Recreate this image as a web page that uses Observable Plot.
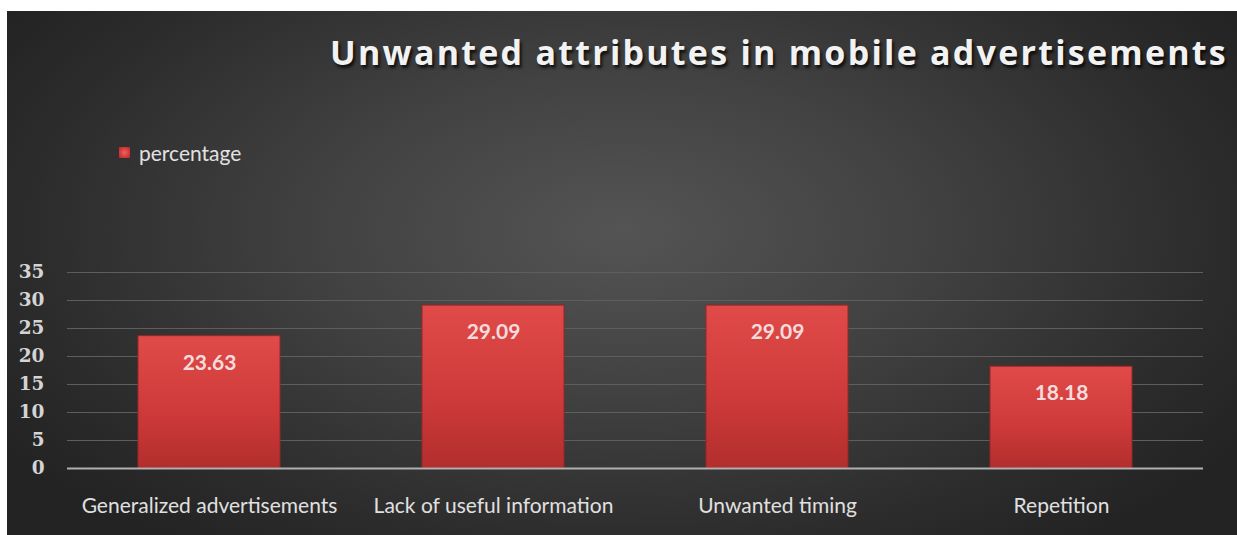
<!DOCTYPE html>
<html>
<head>
<meta charset="utf-8">
<script src="https://cdn.jsdelivr.net/npm/d3@7"></script>
<script src="https://cdn.jsdelivr.net/npm/@observablehq/plot@0.6"></script>
<style>
  html, body { margin: 0; padding: 0; background: #fff; }
  #panel {
    position: absolute; left: 7px; top: 11px; width: 1230px; height: 524px; overflow: hidden;
    background: radial-gradient(ellipse 60% 75% at 50% 42%, #545454 0%, #424242 40%, #2c2c2c 80%, #232323 100%);
  }
  #title {
    position: absolute; right: 9px; top: 24px; line-height: 34px; white-space: nowrap;
    font-family: "Open Sans", sans-serif; font-weight: 700; font-size: 34px; color: #f2f2f2;
    text-shadow: 2px 3px 3px rgba(0,0,0,0.75);
  }
  #legend {
    position: absolute; left: 112px; top: 130px; height: 22px; display: flex; align-items: center;
    font-family: Lato, sans-serif; font-size: 21px; color: #e2e2e2;
  }
  #legend .sw { width: 11px; height: 11px; margin-right: 9px;
    background: radial-gradient(circle, #f06060 0%, #d23a3a 60%, #a82828 100%); }
  #chart { position: absolute; left: 0; top: 239px; }
</style>
</head>
<body>
<div id="panel">
  <div id="title">Unwanted attributes in mobile advertisements</div>
  <div id="legend"><div class="sw"></div><span>percentage</span></div>
  <div id="chart"></div>
</div>
<script>
const categories = ["Generalized advertisements", "Lack of useful information", "Unwanted timing", "Repetition"];
const percentage = [23.63, 29.09, 29.09, 18.18];
const yTicks = [0, 5, 10, 15, 20, 25, 30, 35];

const data = categories.map((c, i) => ({category: c, value: percentage[i]}));

// fit title letter spacing to span
const t = document.getElementById("title");
const natural = t.getBoundingClientRect().width;
const target = 898;
t.style.letterSpacing = ((target - natural) / t.textContent.length) + "px";

const defs = () => {
  const g = d3.create("svg:defs");
  const lg = g.append("linearGradient").attr("id", "barGrad").attr("x1", 0).attr("y1", 0).attr("x2", 0).attr("y2", 1);
  lg.append("stop").attr("offset", "0%").attr("stop-color", "#e04b49");
  lg.append("stop").attr("offset", "55%").attr("stop-color", "#cf3b3a");
  lg.append("stop").attr("offset", "100%").attr("stop-color", "#b22e2d");
  return g.node();
};

const chart = Plot.plot({
  width: 1230,
  height: 285,
  marginTop: 22,
  marginBottom: 67,
  marginLeft: 60,
  marginRight: 34,
  style: {background: "transparent", overflow: "visible"},
  x: {domain: categories, paddingInner: 0.5, paddingOuter: 0.25, label: null},
  y: {domain: [0, 35], label: null},
  marks: [
    defs,
    Plot.ruleY(yTicks.filter(d => d > 0), {stroke: "#5e5e5e", strokeWidth: 1}),
    Plot.barY(data, {x: "category", y: "value", fill: "url(#barGrad)", stroke: "#962626", strokeWidth: 1}),
    Plot.barY(data, {x: "category", y1: "value", y2: d => d.value - 0.35, fill: "#ec6a68", inset: 2}),
    Plot.ruleY([0], {stroke: "#b0b0b0", strokeWidth: 2}),
    Plot.text(data, {x: "category", y: "value", text: d => d.value.toFixed(2), dy: 27,
      fill: "#f5dcdc", fontSize: 21, fontWeight: 700, fontFamily: "Lato, sans-serif"}),
    Plot.axisY({ticks: yTicks, tickSize: 0, tickPadding: 23, fill: "#d4d4d4",
      fontSize: 18.5, fontWeight: 700, fontFamily: "DejaVu Serif, serif", label: null}),
    Plot.axisX({tickSize: 0, tickPadding: 30, fill: "#e0e0e0", fontSize: 21,
      fontFamily: "Lato, sans-serif", label: null})
  ]
});
document.getElementById("chart").appendChild(chart);
</script>
</body>
</html>
